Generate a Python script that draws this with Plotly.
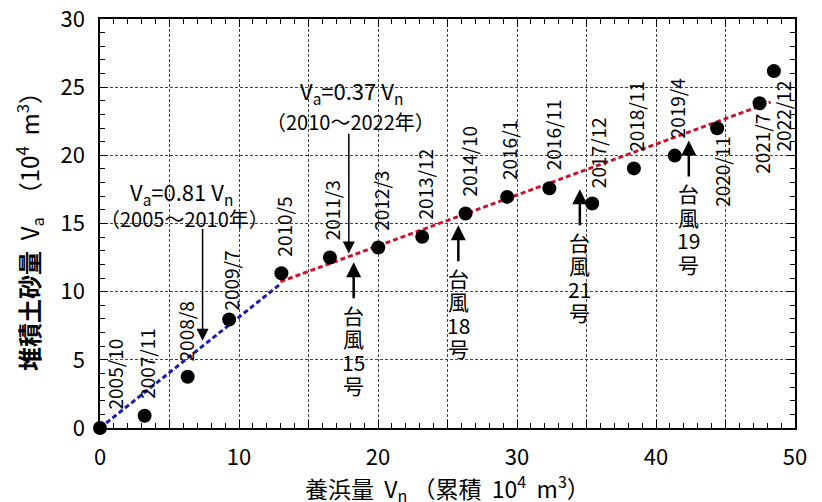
import plotly.graph_objects as go

# ---- data ----
dates = ["2005/10", "2007/11", "2008/8", "2009/7", "2010/5", "2011/3", "2012/3",
         "2013/12", "2014/10", "2016/1", "2016/11", "2017/12", "2018/11", "2019/4",
         "2020/11", "2021/7", "2022/12"]
vn = [0.0, 3.21, 6.31, 9.29, 13.05, 16.54, 20.02, 23.18, 26.30, 29.29, 32.33,
      35.41, 38.41, 41.35, 44.40, 47.45, 48.48]
va = [0.0, 0.90, 3.76, 7.96, 11.35, 12.51, 13.24, 14.02, 15.73, 16.95, 17.58,
      16.47, 19.04, 19.98, 21.99, 23.82, 26.18]

# fitted lines (end points)
fit1_x = [0.0, 12.98]
fit1_y = [0.0, 10.56]
fit2_x = [12.98, 48.24]
fit2_y = [10.73, 23.90]

# typhoon events
typhoon_names = ["15", "18", "21", "19"]
typhoon_x = [18.25, 25.78, 34.52, 42.36]
typhoon_tip = [12.15, 14.88, 17.52, 21.08]

x_tick_vals = [0, 5, 10, 15, 20, 25, 30, 35, 40, 45, 50]
x_tick_text = ["0", "", "10", "", "20", "", "30", "", "40", "", "50"]
y_tick_vals = [0, 5, 10, 15, 20, 25, 30]
y_tick_text = ["0", "5", "10", "15", "20", "25", "30"]

FONT = "Noto Sans CJK JP"

fig = go.Figure()
fig.add_trace(go.Scatter(x=fit1_x, y=fit1_y, mode="lines",
                         line=dict(color="#1c1ca8", width=3, dash="5px,3px"),
                         hoverinfo="skip", showlegend=False))
fig.add_trace(go.Scatter(x=fit2_x, y=fit2_y, mode="lines",
                         line=dict(color="#c8142a", width=3, dash="5px,3px"),
                         hoverinfo="skip", showlegend=False))
fig.add_trace(go.Scatter(x=vn, y=va, mode="markers",
                         marker=dict(color="black", size=14),
                         cliponaxis=False, showlegend=False))

annotations = []

# date labels
label_style = {
    "2005/10": ("above", 14, 16),
    "2008/8": ("above", -2, 13),
    "2009/7": ("above", 1, 7),
    "2016/11": ("above", 3, 16),
    "2017/12": ("above", 6, 13),
    "2020/11": ("below", 5, -6),
    "2021/7": ("below", 2, -9),
    "2022/12": ("below", 9, -7),
}
for d, xv, yv in zip(dates, vn, va):
    pos, xs, ys = label_style.get(d, ("above", 2, 15))
    annotations.append(dict(
        x=xv, y=yv, xref="x", yref="y", text=d, showarrow=False,
        textangle=-90, xanchor="center",
        yanchor="bottom" if pos == "above" else "top",
        xshift=xs, yshift=ys, font=dict(family=FONT, size=19, color="black")))

# equation texts
eq_font = dict(family=FONT, size=22, color="black")
yr_font = dict(family=FONT, size=20, color="black")
annotations += [
    dict(x=5.85, y=17.3, xref="x", yref="y", showarrow=False,
         text="V<sub>a</sub>=0.81 V<sub>n</sub>", font=eq_font),
    dict(x=6.1, y=15.4, xref="x", yref="y", showarrow=False,
         text="（2005～2010年）", font=yr_font),
    dict(x=18.06, y=24.7, xref="x", yref="y", showarrow=False,
         text="V<sub>a</sub>=0.37 V<sub>n</sub>", font=eq_font),
    dict(x=18.0, y=22.5, xref="x", yref="y", showarrow=False,
         text="（2010～2022年）", font=yr_font),
]

# thin down arrows
for (xa, y0, y1) in [(7.38, 14.7, 6.4), (17.9, 21.7, 12.8)]:
    annotations.append(dict(x=xa, y=y1, ax=xa, ay=y0, xref="x", yref="y",
                            axref="x", ayref="y", text="", showarrow=True,
                            arrowhead=2, arrowsize=1.6, arrowwidth=1.5,
                            arrowcolor="black", standoff=0))

# typhoon arrows + vertical labels
for name, xt, tip in zip(typhoon_names, typhoon_x, typhoon_tip):
    tail = tip - 2.75
    text_top = tip - 3.2
    annotations.append(dict(x=xt, y=tip, ax=xt, ay=tail, xref="x", yref="y",
                            axref="x", ayref="y", text="", showarrow=True,
                            arrowhead=2, arrowsize=1.2, arrowwidth=2.5,
                            arrowcolor="black", standoff=0))
    chars = ["台", "風", name, "号"]
    for i, ch in enumerate(chars):
        annotations.append(dict(x=xt, y=text_top, xref="x", yref="y", text=ch,
                                showarrow=False, xanchor="center", yanchor="middle",
                                yshift=-9 - 23.5 * i,
                                font=dict(family=FONT, size=21, color="black")))

# axis titles
annotations += [
    dict(x=-0.1007, y=0.494, xref="paper", yref="paper", showarrow=False,
         textangle=-90, xanchor="center", yanchor="middle",
         text="<b>堆積土砂量</b>  V<sub>a</sub>  （10<sup>4</sup>  m<sup>3</sup>）",
         font=dict(family=FONT, size=24, color="black")),
    dict(x=0.4993, y=-0.147, xref="paper", yref="paper", showarrow=False,
         xanchor="center", yanchor="middle",
         text="養浜量  V<sub>n</sub> （累積  10<sup>4</sup>  m<sup>3</sup>）",
         font=dict(family=FONT, size=23, color="black")),
]

axis_common = dict(
    showline=True, linecolor="black", linewidth=1.5, mirror="ticks",
    ticks="inside", ticklen=8, tickwidth=1, tickcolor="black",
    showgrid=True, gridcolor="#444444", gridwidth=1, griddash="3px,2px",
    zeroline=False, tickfont=dict(family=FONT, size=22, color="black"),
    ticklabelstandoff=9, automargin=False,
    minor=dict(ticks="inside", ticklen=5, tickcolor="black", tickwidth=1,
               dtick=1, showgrid=False),
)

fig.update_layout(
    width=822, height=502,
    margin=dict(l=100, r=27, t=19, b=74, autoexpand=False),
    paper_bgcolor="white", plot_bgcolor="white",
    xaxis=dict(range=[0, 50], tickmode="array", tickvals=x_tick_vals,
               ticktext=x_tick_text, **axis_common),
    yaxis=dict(range=[0, 30], tickmode="array", tickvals=y_tick_vals,
               ticktext=y_tick_text, **axis_common),
    annotations=annotations,
    showlegend=False,
)

fig.write_html("out.html", config={"displayModeBar": False},
               post_script="document.body.style.margin='0px';"
                           "document.body.style.overflow='hidden';")
